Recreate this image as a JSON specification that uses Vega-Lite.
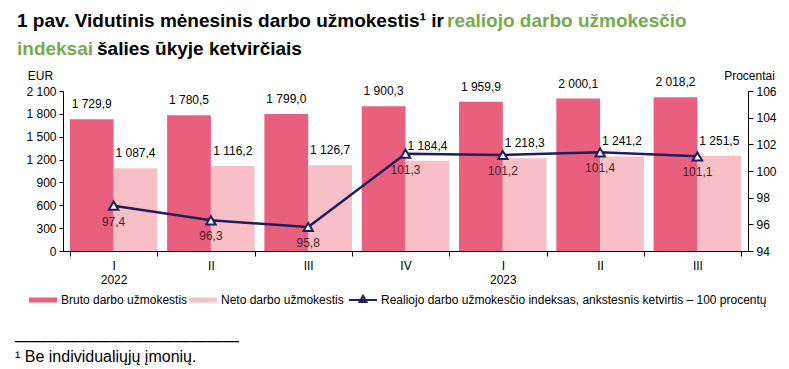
{
  "$schema": "https://vega.github.io/schema/vega-lite/v6.json",
  "padding": {"left": 15, "top": 12, "right": 5, "bottom": 5},
  "config": {
    "font": "Liberation Sans",
    "locale": {"number": {"decimal": ",", "thousands": " ", "grouping": [3], "currency": ["", " €"]}},
    "view": {"stroke": null},
    "axis": {"domainColor": "#000", "tickColor": "#000", "labelColor": "#000", "labelFontSize": 12, "titleFontSize": 12, "titleFontWeight": "normal", "titleColor": "#000", "grid": false, "labelFont": "Liberation Sans", "titleFont": "Liberation Sans"},
    "concat": {"spacing": 0}
  },
  "datasets": {
    "wages": [
      {"q": "2022|I", "series": "Bruto darbo užmokestis", "value": 1729.9},
      {"q": "2022|I", "series": "Neto darbo užmokestis", "value": 1087.4},
      {"q": "2022|II", "series": "Bruto darbo užmokestis", "value": 1780.5},
      {"q": "2022|II", "series": "Neto darbo užmokestis", "value": 1116.2},
      {"q": "2022|III", "series": "Bruto darbo užmokestis", "value": 1799.0},
      {"q": "2022|III", "series": "Neto darbo užmokestis", "value": 1126.7},
      {"q": "2022|IV", "series": "Bruto darbo užmokestis", "value": 1900.3},
      {"q": "2022|IV", "series": "Neto darbo užmokestis", "value": 1184.4},
      {"q": "2023|I", "series": "Bruto darbo užmokestis", "value": 1959.9},
      {"q": "2023|I", "series": "Neto darbo užmokestis", "value": 1218.3},
      {"q": "2023|II", "series": "Bruto darbo užmokestis", "value": 2000.1},
      {"q": "2023|II", "series": "Neto darbo užmokestis", "value": 1241.2},
      {"q": "2023|III", "series": "Bruto darbo užmokestis", "value": 2018.2},
      {"q": "2023|III", "series": "Neto darbo užmokestis", "value": 1251.5}
    ],
    "idx": [
      {"q": "2022|I", "series": "Realiojo darbo užmokesčio indeksas, ankstesnis ketvirtis – 100 procentų", "v": 97.4},
      {"q": "2022|II", "series": "Realiojo darbo užmokesčio indeksas, ankstesnis ketvirtis – 100 procentų", "v": 96.3},
      {"q": "2022|III", "series": "Realiojo darbo užmokesčio indeksas, ankstesnis ketvirtis – 100 procentų", "v": 95.8},
      {"q": "2022|IV", "series": "Realiojo darbo užmokesčio indeksas, ankstesnis ketvirtis – 100 procentų", "v": 101.3},
      {"q": "2023|I", "series": "Realiojo darbo užmokesčio indeksas, ankstesnis ketvirtis – 100 procentų", "v": 101.2},
      {"q": "2023|II", "series": "Realiojo darbo užmokesčio indeksas, ankstesnis ketvirtis – 100 procentų", "v": 101.4},
      {"q": "2023|III", "series": "Realiojo darbo užmokesčio indeksas, ankstesnis ketvirtis – 100 procentų", "v": 101.1}
    ]
  },
  "title": {"text": "1 pav. Vidutinis mėnesinis darbo užmokestis¹ ir", "subtitle": "indeksai", "anchor": "start", "frame": "bounds", "font": "Liberation Sans", "fontSize": 19, "fontWeight": "bold", "color": "#000", "subtitleFont": "Liberation Sans", "subtitleFontSize": 19, "subtitleFontWeight": "bold", "subtitleColor": "#74ab4c", "subtitlePadding": 9, "offset": -47, "dx": 2},
  "vconcat": [{
    "title": {"text": "realiojo darbo užmokesčio", "anchor": "start", "frame": "bounds", "font": "Liberation Sans", "fontSize": 19, "fontWeight": "bold", "color": "#74ab4c", "dx": 432, "offset": 9},
    "vconcat": [{
      "title": {"text": "šalies ūkyje ketvirčiais", "anchor": "start", "frame": "bounds", "font": "Liberation Sans", "fontSize": 19, "fontWeight": "bold", "color": "#000", "dx": 82, "offset": 10},
      "vconcat": [{
        "title": {"text": "——————————————", "subtitle": "¹ Be individualiųjų įmonių.", "orient": "bottom", "anchor": "start", "frame": "group", "font": "Liberation Sans", "fontSize": 16, "fontWeight": "normal", "color": "#000", "subtitleFont": "Liberation Sans", "subtitleFontSize": 16, "subtitleColor": "#000", "subtitlePadding": 0, "dx": -48, "offset": 48},
        "width": 685,
        "height": 160,
        "resolve": {"scale": {"y": "independent"}},
        "layer": [
          {
            "data": {"name": "wages"},
            "layer": [
              {
                "mark": {"type": "bar"},
                "encoding": {
                  "x": {"field": "q", "type": "nominal", "sort": null,
                    "scale": {"domain": ["2022|I", "2022|II", "2022|III", "2022|IV", "2023|I", "2023|II", "2023|III"], "paddingInner": 0.1, "paddingOuter": 0.07},
                    "axis": {"title": null, "labelAngle": 0, "tickBand": "extent", "tickSize": 5, "labelPadding": 4, "labelLineHeight": 14,
                      "labelExpr": "[split(datum.label,'|')[1], split(datum.label,'|')[1] == 'I' ? split(datum.label,'|')[0] : '']"}},
                  "xOffset": {"field": "series", "type": "nominal", "sort": null},
                  "y": {"field": "value", "type": "quantitative",
                    "scale": {"domain": [0, 2100], "nice": false},
                    "axis": {"orient": "left", "values": [0, 300, 600, 900, 1200, 1500, 1800, 2100], "tickCount": 8, "format": ",.0f", "labelOverlap": false, "title": "EUR", "titleAngle": 0, "titleX": -23, "titleY": -16, "titleAlign": "center", "titleBaseline": "middle", "tickSize": 4, "labelPadding": 3}},
                  "color": {"field": "series", "type": "nominal",
                    "scale": {"domain": ["Bruto darbo užmokestis", "Neto darbo užmokestis"], "range": ["#e9607e", "#f9bfc7"]},
                    "legend": {"orient": "none", "legendX": -35, "legendY": 194, "direction": "horizontal", "title": null, "labelFontSize": 12, "labelColor": "#000", "labelLimit": 600, "symbolType": "M-1,-0.18L1,-0.18L1,0.18L-1,0.18Z", "symbolSize": 784, "columnPadding": -4, "labelOffset": 3}}
                }
              },
              {
                "mark": {"type": "text", "baseline": "bottom", "dy": -8, "fontSize": 12, "color": "#000", "font": "Liberation Sans"},
                "encoding": {
                  "x": {"field": "q", "type": "nominal", "sort": null},
                  "xOffset": {"field": "series", "type": "nominal", "sort": null},
                  "y": {"field": "value", "type": "quantitative"},
                  "text": {"field": "value", "type": "quantitative", "format": ",.1f"}
                }
              }
            ]
          },
          {
            "data": {"name": "idx"},
            "layer": [
              {
                "mark": {"type": "line", "interpolate": "linear", "strokeWidth": 2.5},
                "encoding": {
                  "x": {"field": "q", "type": "nominal", "sort": null},
                  "y": {"field": "v", "type": "quantitative",
                    "scale": {"domain": [94, 106], "nice": false},
                    "axis": {"orient": "right", "values": [94, 96, 98, 100, 102, 104, 106], "tickCount": 7, "format": ".0f", "labelOverlap": false, "title": "Procentai", "titleAngle": 0, "titleX": 1, "titleY": -16, "titleAlign": "center", "titleBaseline": "middle", "tickSize": 5, "labelPadding": 3}},
                  "stroke": {"field": "series", "type": "nominal",
                    "scale": {"domain": ["Realiojo darbo užmokesčio indeksas, ankstesnis ketvirtis – 100 procentų"], "range": ["#1f1d5e"]},
                    "legend": {"orient": "none", "legendX": 285, "legendY": 194, "title": null, "labelFontSize": 12, "labelColor": "#000", "labelLimit": 600, "symbolType": "M-1,0L1,0M0,-0.3L0.25,0.15L-0.25,0.15Z", "symbolStrokeWidth": 2, "symbolSize": 784, "labelOffset": 3}}
                }
              },
              {
                "mark": {"type": "point", "shape": "triangle-up", "filled": true, "fill": "#ffffff", "stroke": "#1f1d5e", "strokeWidth": 2, "size": 90, "opacity": 1},
                "encoding": {
                  "x": {"field": "q", "type": "nominal", "sort": null},
                  "y": {"field": "v", "type": "quantitative"}
                }
              },
              {
                "mark": {"type": "text", "baseline": "top", "dy": 11, "fontSize": 12, "color": "#4a1d2a", "font": "Liberation Sans"},
                "encoding": {
                  "x": {"field": "q", "type": "nominal", "sort": null},
                  "y": {"field": "v", "type": "quantitative"},
                  "text": {"field": "v", "type": "quantitative", "format": ",.1f"}
                }
              }
            ]
          }
        ]
      }]
    }]
  }]
}
